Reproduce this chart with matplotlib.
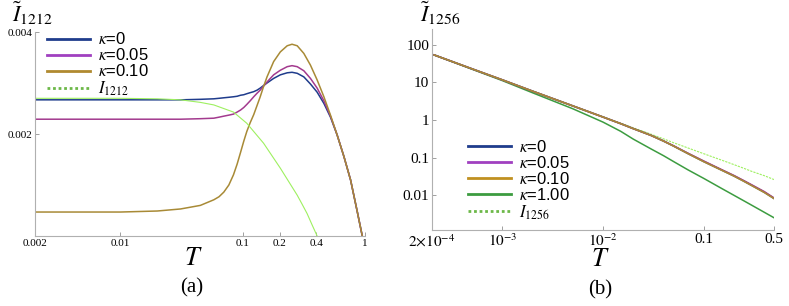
import matplotlib
matplotlib.use('Agg')
import matplotlib.pyplot as plt
from matplotlib.ticker import FixedLocator, NullLocator

plt.rcParams['font.family'] = ['Liberation Serif', 'DejaVu Serif']
plt.rcParams['mathtext.fontset'] = 'stix'

# (a) I~1212 vs T
T_a = [0.002, 0.005, 0.01, 0.02, 0.031, 0.045, 0.058, 0.064, 0.07, 0.077, 0.084, 0.09, 0.096,
       0.102, 0.108, 0.115, 0.123, 0.131, 0.139, 0.148, 0.158, 0.179, 0.203, 0.231, 0.253, 0.279,
       0.316, 0.358, 0.406, 0.461, 0.522, 0.592, 0.672, 0.762, 0.864, 0.95]
k0_a = [0.00267, 0.00267, 0.00267, 0.00267, 0.00267, 0.00268, 0.00269, 0.0027, 0.00271, 0.00272,
        0.00273, 0.00274, 0.00276, 0.00277, 0.00279, 0.00281, 0.00283, 0.00286, 0.0029, 0.00295,
        0.003, 0.00309, 0.00316, 0.0032, 0.00321, 0.00319, 0.00312, 0.00298, 0.00282, 0.0026,
        0.00233, 0.00198, 0.00156, 0.0011, 0.00048, 0.0]
k005_a = [0.00229, 0.00229, 0.00229, 0.00229, 0.00229, 0.0023, 0.00231, 0.00233, 0.00235, 0.00237,
          0.00239, 0.00243, 0.00247, 0.00252, 0.00258, 0.00265, 0.00273, 0.0028, 0.00286, 0.00294,
          0.00302, 0.00316, 0.00325, 0.00332, 0.00334, 0.00332, 0.00324, 0.00309, 0.0029, 0.00265,
          0.00235, 0.00198, 0.00156, 0.0011, 0.00048, 0.0]
k010_a = [0.00047, 0.00047, 0.00047, 0.00049, 0.00053, 0.0006, 0.00071, 0.00077, 0.00086, 0.001,
          0.0012, 0.00141, 0.00164, 0.00186, 0.00205, 0.00222, 0.00238, 0.00256, 0.00273, 0.00293,
          0.00312, 0.00342, 0.00361, 0.00373, 0.00376, 0.00373, 0.00358, 0.00335, 0.00306, 0.00273,
          0.00237, 0.00198, 0.00156, 0.0011, 0.00048, 0.0]
T_i1212 = [0.002, 0.005, 0.01, 0.02, 0.031, 0.045, 0.058, 0.084, 0.108, 0.148, 0.203, 0.279,
           0.305, 0.336, 0.369, 0.406]
i1212 = [0.0027, 0.0027, 0.0027, 0.00269, 0.00267, 0.00262, 0.00257, 0.00243, 0.00221, 0.00182,
         0.00133, 0.0008, 0.00063, 0.00044, 0.00022, 0.0]

# (b) I~1256 vs T
T_b = [2.1e-4, 5e-4, 1e-3, 2e-3, 5e-3, 0.01, 0.015, 0.02, 0.03, 0.04, 0.05, 0.07, 0.1, 0.15,
       0.2, 0.25, 0.3, 0.4, 0.5]
k0_b = [54, 23.0, 11.7, 5.85, 2.38, 1.2, 0.80, 0.59, 0.39, 0.275, 0.205, 0.128, 0.079, 0.047,
        0.0325, 0.0238, 0.0183, 0.012, 0.0082]
k005_b = [54, 23.0, 11.7, 5.85, 2.38, 1.2, 0.80, 0.59, 0.39, 0.277, 0.207, 0.13, 0.081, 0.048,
          0.0333, 0.0244, 0.0188, 0.0124, 0.0084]
k010_b = [54, 23.0, 11.7, 5.85, 2.38, 1.2, 0.80, 0.59, 0.39, 0.274, 0.204, 0.127, 0.078, 0.0465,
          0.0322, 0.0235, 0.018, 0.0118, 0.0081]
k1_b = [54, 22.5, 11.2, 5.3, 2.0, 0.88, 0.50, 0.31, 0.17, 0.112, 0.079, 0.047, 0.028, 0.0152,
        0.0099, 0.0071, 0.0054, 0.0035, 0.0025]
i1256 = [54, 23.0, 11.7, 5.9, 2.4, 1.22, 0.82, 0.62, 0.42, 0.315, 0.25, 0.18, 0.127, 0.086,
         0.065, 0.052, 0.043, 0.033, 0.026]

xt_a = [0.002, 0.01, 0.1, 0.2, 0.4, 1]
xl_a = ['0.002', '0.01', '0.1', '0.2', '0.4', '1']
yt_a = [0.002, 0.004]
yl_a = ['0.002', '0.004']
xt_b = [2e-4, 1e-3, 1e-2, 0.1, 0.5]
xl_b = [r'$2{\times}10^{-4}$', r'$10^{-3}$', r'$10^{-2}$', '0.1', '0.5']
yt_b = [100, 10, 1, 0.1, 0.01]
yl_b = ['100', '10', '1', '0.1', '0.01']

blue = '#1f3c8c'
purple = '#a33a8e'
gold = '#a88a36'
green = '#3c9c40'
light = '#9ef060'

W, H = 789, 306
fig = plt.figure(figsize=(W / 100, H / 100), dpi=100)


def style(ax):
    for s in ['top', 'right']:
        ax.spines[s].set_visible(False)
    for s in ['left', 'bottom']:
        ax.spines[s].set_color('#b0b0b0')
        ax.spines[s].set_linewidth(0.8)
    ax.tick_params(direction='in', length=3, color='#a0a0a0', width=0.7, pad=2)
    ax.xaxis.set_minor_locator(NullLocator())
    ax.yaxis.set_minor_locator(NullLocator())


ax1 = fig.add_axes([35 / W, 70 / H, 330 / W, 204 / H])
ax1.set_xscale('log')
ax1.plot(T_a, k0_a, color=blue, lw=1.1)
ax1.plot(T_a, k005_a, color=purple, lw=1.1)
ax1.plot(T_a, k010_a, color=gold, lw=1.1)
ax1.plot(T_i1212, i1212, color=light, lw=0.8)
ax1.set_xlim(0.002, 1)
ax1.set_ylim(0, 0.004)
style(ax1)
ax1.xaxis.set_major_locator(FixedLocator(xt_a))
ax1.set_xticklabels(xl_a, fontsize=8)
ax1.yaxis.set_major_locator(FixedLocator(yt_a))
ax1.set_yticklabels(yl_a, fontsize=8)
hl = [plt.Line2D([], [], color=blue, lw=2), plt.Line2D([], [], color='#a040c0', lw=2),
      plt.Line2D([], [], color='#b08a30', lw=2), plt.Line2D([], [], color='#6cb848', lw=2, ls=(0, (1, 1)))]
ll = [r'$\kappa$=0', r'$\kappa$=0.05', r'$\kappa$=0.10', r'$I_{1212}$']
ax1.legend(hl, ll, loc='upper left', bbox_to_anchor=(0.0, 1.06), frameon=False,
           prop={'family': 'Liberation Sans', 'size': 12}, handlelength=2.6,
           handletextpad=0.5, labelspacing=0.0, borderpad=0.2)

ax2 = fig.add_axes([432 / W, 76 / H, 342 / W, 201 / H])
ax2.set_xscale('log')
ax2.set_yscale('log')
ax2.plot(T_b, i1256, color=light, lw=0.8, ls=(0, (2, 1)))
ax2.plot(T_b, k1_b, color=green, lw=1.1)
ax2.plot(T_b, k0_b, color=blue, lw=1.2)
ax2.plot(T_b, k005_b, color=purple, lw=1.2)
ax2.plot(T_b, k010_b, color=gold, lw=1.2)
ax2.set_xlim(2e-4, 0.5)
ax2.set_ylim(0.00118, 265)
style(ax2)
ax2.xaxis.set_major_locator(FixedLocator(xt_b))
ax2.set_xticklabels(xl_b, fontsize=11)
ax2.yaxis.set_major_locator(FixedLocator(yt_b))
ax2.set_yticklabels(yl_b, fontsize=11)
hl2 = [plt.Line2D([], [], color=blue, lw=2), plt.Line2D([], [], color='#a040c0', lw=2),
       plt.Line2D([], [], color='#c09020', lw=2), plt.Line2D([], [], color=green, lw=2),
       plt.Line2D([], [], color='#6cb848', lw=2, ls=(0, (1, 1)))]
ll2 = [r'$\kappa$=0', r'$\kappa$=0.05', r'$\kappa$=0.10', r'$\kappa$=1.00', r'$I_{1256}$']
ax2.legend(hl2, ll2, loc='upper left', bbox_to_anchor=(0.07, 0.51), frameon=False,
           prop={'family': 'Liberation Sans', 'size': 12}, handlelength=2.6,
           handletextpad=0.5, labelspacing=0.0, borderpad=0.2)

fig.text(12 / W, 1 - 22 / H, r'$\tilde{I}_{1212}$', fontsize=16, ha='left', va='baseline')
fig.text(420 / W, 1 - 22 / H, r'$\tilde{I}_{1256}$', fontsize=16, ha='left', va='baseline')
fig.text(193 / W, 1 - 259 / H, r'$T$', fontsize=19, ha='center', va='center')
fig.text(600 / W, 1 - 260 / H, r'$T$', fontsize=19, ha='center', va='center')
fig.text(192 / W, 1 - 288 / H, '(a)', fontsize=15, ha='center', va='center')
fig.text(600 / W, 1 - 290 / H, '(b)', fontsize=15, ha='center', va='center')

fig.savefig('out.png', dpi=100)
